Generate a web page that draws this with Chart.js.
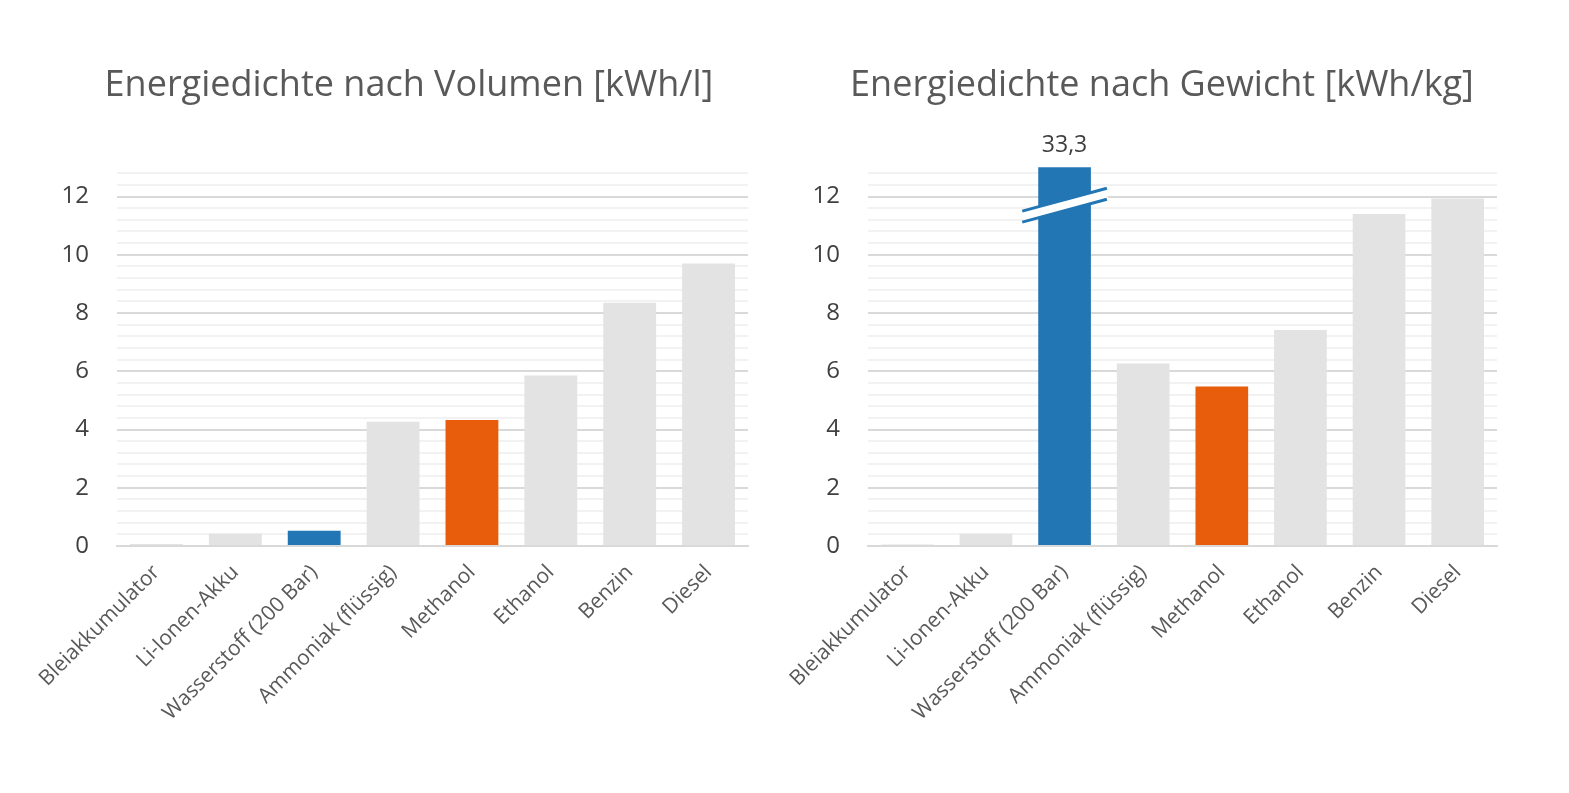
<!DOCTYPE html>
<html>
<head>
<meta charset="utf-8">
<script src="https://cdn.jsdelivr.net/npm/chart.js@4"></script>
<style>
  html, body { margin: 0; padding: 0; background: #fff; overflow: hidden; }
  #wrap { position: relative; width: 1569px; height: 793px; }
  canvas { position: absolute; top: 0; }
</style>
</head>
<body>
<div id="wrap">
  <canvas id="volCanvas" width="800" height="793" style="left:0px"></canvas>
  <canvas id="gewCanvas" width="800" height="793" style="left:760px"></canvas>
</div>
<script>
// === Data ===
const categories = ['Bleiakkumulator', 'Li-Ionen-Akku', 'Wasserstoff (200 Bar)', 'Ammoniak (flüssig)',
                    'Methanol', 'Ethanol', 'Benzin', 'Diesel'];
const volumeValues = [0.07, 0.42, 0.52, 4.27, 4.33, 5.85, 8.35, 9.7];   // kWh/l
const weightValues = [0.05, 0.42, 33.3, 6.27, 5.48, 7.42, 11.4, 11.93]; // kWh/kg
const barColors = ['#E3E3E3', '#E3E3E3', '#2276B4', '#E3E3E3', '#E85D0C', '#E3E3E3', '#E3E3E3', '#E3E3E3'];
const yMax = 12.8;
const yStep = 0.4;
const breakAt = 11.7;   // where the axis break marker sits on the cut bar

// === Helpers ===
const isMajor = v => Math.abs(v / 2 - Math.round(v / 2)) < 1e-6;
const FONT = '"Open Sans", "Liberation Sans", sans-serif';

// break marker + value label for a bar taller than the axis
const overflowLabel = {
  id: 'overflowLabel',
  afterDatasetsDraw(chart) {
    const { ctx, chartArea } = chart;
    const meta = chart.getDatasetMeta(0);
    chart.data.datasets[0].data.forEach((v, i) => {
      if (v <= yMax) return;
      const bar = meta.data[i];
      const x = bar.x, w = bar.width;
      const yb = chart.scales.y.getPixelForValue(breakAt);
      const dx = w / 2 + 16, dy = dx * 0.27;
      ctx.save();
      // white gap
      ctx.strokeStyle = '#fff';
      ctx.lineWidth = 9;
      ctx.beginPath();
      ctx.moveTo(x - dx, yb + dy);
      ctx.lineTo(x + dx, yb - dy);
      ctx.stroke();
      // blue edges
      ctx.strokeStyle = barColors[i];
      ctx.lineWidth = 3;
      [-5.5, 5.5].forEach(o => {
        ctx.beginPath();
        ctx.moveTo(x - dx, yb + dy + o);
        ctx.lineTo(x + dx, yb - dy + o);
        ctx.stroke();
      });
      // value text
      ctx.fillStyle = '#404040';
      ctx.font = '23px ' + FONT;
      ctx.textAlign = 'center';
      ctx.textBaseline = 'middle';
      ctx.fillText(v.toFixed(1).replace('.', ','), x, chartArea.top - 28);
      ctx.restore();
    });
  }
};

function makeChart(id, title, values, pad, yWidth, spacer) {
  return new Chart(document.getElementById(id), {
    type: 'bar',
    data: {
      labels: categories,
      datasets: [{
        data: values,
        backgroundColor: barColors,
        categoryPercentage: 1,
        barPercentage: 0.67,
        clip: { left: 0, top: 6, right: 0, bottom: 0 }
      }]
    },
    options: {
      responsive: false,
      animation: false,
      layout: { padding: { left: pad.left, right: pad.right, top: 0, bottom: 37 } },
      plugins: {
        legend: { display: false },
        tooltip: { enabled: false },
        title: {
          display: true,
          text: title,
          color: '#595959',
          font: { family: FONT, size: 36, weight: 'normal' },
          padding: { top: 64, bottom: 66 }
        }
      },
      scales: {
        x: {
          grid: { display: false },
          border: { display: true, color: '#D9D9D9', width: 2 },
          ticks: {
            color: '#595959',
            font: { family: FONT, size: 21 },
            maxRotation: 45, minRotation: 45,
            padding: 6,
            autoSkip: false
          },
          afterFit: s => { s.height = 210; }
        },
        y: {
          min: 0, max: yMax,
          grid: {
            drawTicks: false,
            color: c => isMajor(c.tick.value) ? '#D9D9D9' : '#F2F2F2',
            lineWidth: 2
          },
          border: { display: false },
          ticks: {
            stepSize: yStep,
            autoSkip: false,
            padding: 28,
            color: '#404040',
            font: { family: FONT, size: 24 },
            callback: v => (isMajor(v) && v < yMax - 0.5) ? String(Math.round(v)) : ''
          },
          afterFit: s => { s.width = yWidth; }
        },
        // empty right-hand axis, only reserves space so the title centres like the original
        ySpace: {
          position: 'right',
          min: 0, max: yMax,
          grid: { display: false },
          border: { display: false },
          ticks: { display: false },
          afterFit: s => { s.width = spacer; }
        }
      }
    },
    plugins: [overflowLabel]
  });
}

makeChart('volCanvas', 'Energiedichte nach Volumen [kWh/l]', volumeValues, { left: 20, right: 2 }, 97, 50);
makeChart('gewCanvas', 'Energiedichte nach Gewicht [kWh/kg]', weightValues, { left: 17, right: 13 }, 91, 50);
</script>
</body>
</html>
